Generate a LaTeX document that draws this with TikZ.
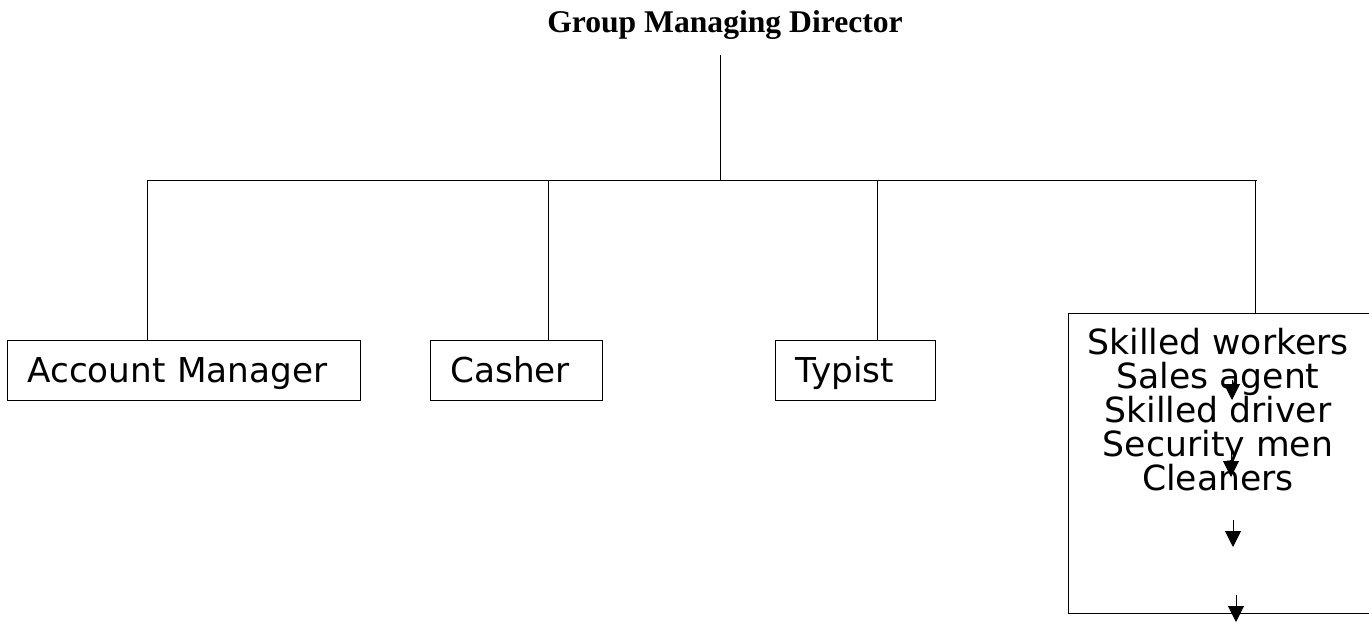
\documentclass[tikz,border=0pt]{standalone}
\usepackage{fontspec}
\setmainfont{DejaVu Sans}
\newfontfamily\titlefont{Liberation Serif}
\usetikzlibrary{arrows.meta, positioning}

\tikzset{
  post/.style={draw, line width=0.5pt, anchor=north west, minimum height=1.2cm,
               align=left, inner xsep=0.4cm, text height=0.6cm, text depth=0.1cm,
               font=\fontsize{19.5}{21}\selectfont},
  link/.style={line width=0.5pt},
  down/.style={-{Triangle[length=0.32cm, width=0.32cm]}, line width=0.5pt}
}

\begin{document}
\begin{tikzpicture}[x=0.02cm, y=-0.02cm]
  \useasboundingbox (0,0) rectangle (1369,623);

  %--- head of the chart ---
  \node[font=\titlefont\bfseries\fontsize{18}{21}\selectfont] (gmd) at (725,25)
    {Group Managing Director};

  %--- bus ---
  \coordinate (gtop) at (720,55);
  \coordinate (hub) at (720,180);
  \coordinate (busL) at (147,180);
  \coordinate (busR) at (1257,180);
  \coordinate (t2) at (548,180);
  \coordinate (t3) at (877,180);
  \coordinate (t4) at (1255,180);
  \draw[link] (gtop) -- (hub);
  \draw[link] (busL) -- (busR);

  %--- posts ---
  \node[post, text width=6.26cm] (acct) at (7,340) {Account Manager};
  \node[post, text width=2.64cm] (cash) at (430,340) {Casher};
  \node[post, text width=2.4cm] (typ) at (775,340) {Typist};
  \node[draw, line width=0.5pt, anchor=north west, minimum width=6.4cm,
        minimum height=6cm] (skill) at (1068,313) {};
  \node[font=\fontsize{19.7}{19.3}\selectfont, align=center, anchor=north]
    (staff) at (1218,322)
    {Skilled workers\\Sales agent\\Skilled driver\\Security men\\Cleaners};

  %--- drops ---
  \draw[link] (busL) -- (busL |- acct.north);
  \draw[link] (t2) -- (t2 |- cash.north);
  \draw[link] (t3) -- (t3 |- typ.north);
  \draw[link] (t4) -- (t4 |- skill.north);

  %--- arrows in the staff box ---
  \coordinate (a1) at (1232,380);
  \coordinate (b1) at (1232,400);
  \coordinate (a2) at (1231,450);
  \coordinate (b2) at (1231,477);
  \coordinate (a3) at (1233,520);
  \coordinate (b3) at (1233,547);
  \coordinate (a4) at (1236,595);
  \coordinate (b4) at (1236,622);
  \draw[down] (a1) -- (b1);
  \draw[down] (a2) -- (b2);
  \draw[down] (a3) -- (b3);
  \draw[down] (a4) -- (b4);
\end{tikzpicture}
\end{document}
